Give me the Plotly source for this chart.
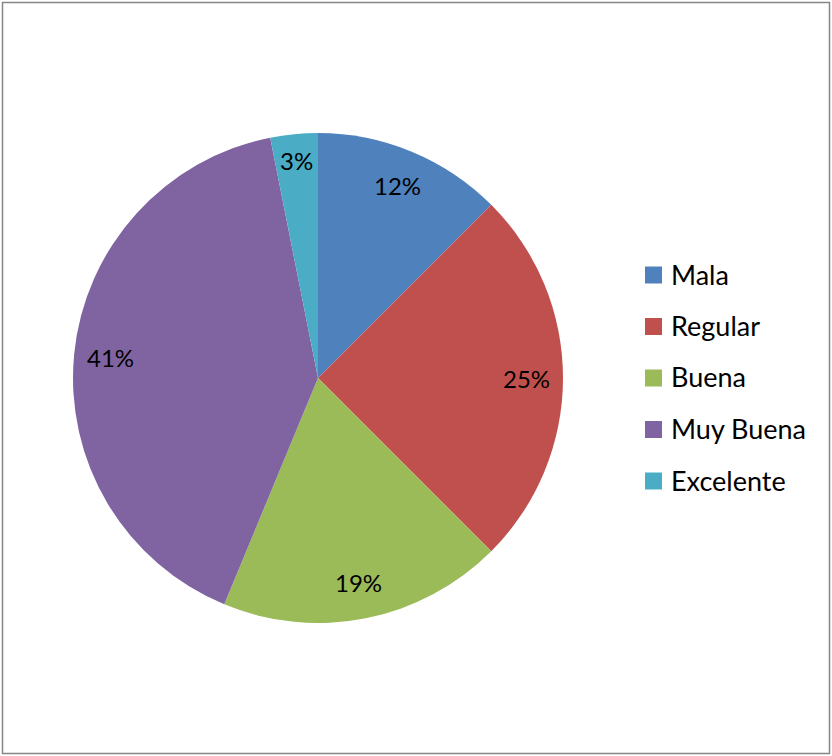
import numpy as np
import plotly.graph_objects as go

categories = ["Mala", "Regular", "Buena", "Muy Buena", "Excelente"]
values = [4, 8, 6, 13, 1]
colors = ["#4F81BD", "#C0504D", "#9BBB59", "#8064A2", "#4BACC6"]

W, H = 832, 756
cx, cy, R = 318, 378, 245
FONT = "Lato"
FS_LABEL = 24
FS_LEGEND = 27

fig = go.Figure()
fig.add_trace(go.Pie(
    labels=categories, values=values, sort=False, direction="clockwise",
    rotation=0, marker=dict(colors=colors, line=dict(width=0)),
    textinfo="none", hoverinfo="label+percent", showlegend=False,
    domain=dict(x=[(cx - R) / W, (cx + R) / W], y=[(H - cy - R) / H, (H - cy + R) / H]),
))

# percentage labels placed along each slice's mid-angle
vals = np.array(values, dtype=float)
frac = vals / vals.sum()
mids = (np.cumsum(frac) - frac / 2) * 2 * np.pi
for f, a in zip(frac, mids):
    r = (0.85 if f > 0.05 else 0.89) * R
    px = cx + r * np.sin(a)
    py = cy - r * np.cos(a)
    fig.add_annotation(x=px / W, y=1 - py / H, xref="paper", yref="paper",
                       text=f"{round(float(f) * 100)}%", showarrow=False,
                       font=dict(family=FONT, size=FS_LABEL, color="black"),
                       xanchor="center", yanchor="middle")

# legend
lx0, ly0, gap, sq = 645, 275, 51.5, 17
shapes = []
for i, (c, lab) in enumerate(zip(colors, categories)):
    yc = ly0 + i * gap
    shapes.append(dict(type="rect", xref="paper", yref="paper",
                       x0=lx0 / W, x1=(lx0 + sq) / W,
                       y0=1 - (yc + sq / 2) / H, y1=1 - (yc - sq / 2) / H,
                       fillcolor=c, line=dict(width=0)))
    fig.add_annotation(x=(lx0 + sq + 7) / W, y=1 - (yc - 1) / H, xref="paper", yref="paper",
                       text=lab, showarrow=False,
                       font=dict(family=FONT, size=FS_LEGEND, color="black"),
                       xanchor="left", yanchor="middle")

shapes.append(dict(type="rect", xref="paper", yref="paper",
                   x0=2.5 / W, x1=829.5 / W, y0=1 - 753.5 / H, y1=1 - 2.5 / H,
                   line=dict(color="#868686", width=1.5), fillcolor="rgba(0,0,0,0)"))

fig.update_layout(width=W, height=H, margin=dict(l=0, r=0, t=0, b=0),
                  paper_bgcolor="white", plot_bgcolor="white",
                  shapes=shapes, font=dict(family=FONT))
fig.write_html("out.html", config={"displayModeBar": False},
               post_script="document.body.style.margin='0';document.body.style.overflow='hidden';")
